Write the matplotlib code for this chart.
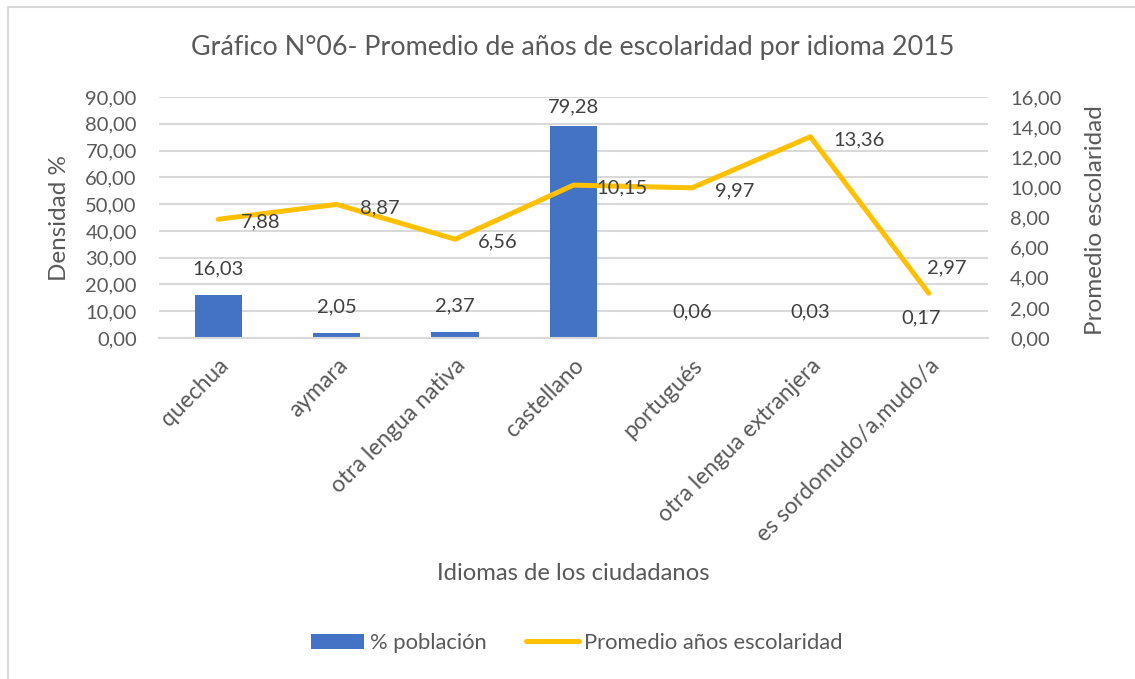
import matplotlib.pyplot as plt
from matplotlib.patches import Rectangle

plt.rcParams['font.family'] = ['Lato', 'DejaVu Sans']

idiomas = ["quechua", "aymara", "otra lengua nativa", "castellano",
           "portugués", "otra lengua extranjera", "es sordomudo/a,mudo/a"]
poblacion = [16.03, 2.05, 2.37, 79.28, 0.06, 0.03, 0.17]
escolaridad = [7.88, 8.87, 6.56, 10.15, 9.97, 13.36, 2.97]

azul = "#4472C4"
oro = "#FFC000"
gris = "#595959"
grid = "#D9D9D9"

fig = plt.figure(figsize=(11.35, 6.79), dpi=100)
ax = fig.add_axes([159/1135, 1-338/679, 829/1135, 241/679])
ax2 = ax.twinx()

x = list(range(len(idiomas)))
ax.bar(x, poblacion, width=0.4, color=azul, zorder=2, label="% población")
ax2.plot(x, escolaridad, color=oro, lw=3.6, solid_capstyle="round", zorder=3,
         label="Promedio años escolaridad")

ax.set_xlim(-0.5, len(idiomas) - 0.5)
ax.set_ylim(0, 90)
ax2.set_ylim(0, 16)
ax.set_yticks(range(0, 91, 10))
ax2.set_yticks(range(0, 17, 2))
ax.set_yticklabels([f"{v:.2f}".replace(".", ",") for v in range(0, 91, 10)])
ax2.set_yticklabels([f"{v:.2f}".replace(".", ",") for v in range(0, 17, 2)])
ax.yaxis.grid(True, color=grid, lw=1.5, zorder=0)
ax.set_axisbelow(True)

for a in (ax, ax2):
    for s in a.spines.values():
        s.set_visible(False)
    a.tick_params(length=0, labelsize=14.5, labelcolor=gris, pad=16)
ax.spines["bottom"].set_visible(True)
ax.spines["bottom"].set_color(grid)
ax.spines["bottom"].set_linewidth(1.5)

ax.set_xticks(x)
ax.set_xticklabels(idiomas, rotation=45, ha="right", va="top",
                   rotation_mode="anchor", fontsize=16.5, color=gris)
ax.tick_params(axis="x", pad=12)

# etiquetas de barras
desp_barras = [26, 26, 26, 19, 26, 26, 20]
dx_barras = [0, 0, 0, 0, 0, 0, -8]
for xi, v, dy, dx in zip(x, poblacion, desp_barras, dx_barras):
    ax.annotate(f"{v:.2f}".replace(".", ","), (xi, v), xytext=(dx, dy),
                textcoords="offset pixels", ha="center", va="center",
                fontsize=14.5, color="#404040")

# etiquetas de la linea
for i, (xi, v) in enumerate(zip(x, escolaridad)):
    dx, dy = (23, -3) if i < 6 else (-2, 25)
    ax2.annotate(f"{v:.2f}".replace(".", ","), (xi, v), xytext=(dx, dy),
                 textcoords="offset pixels", ha="left", va="center",
                 fontsize=14.5, color="#404040")

fig.text(573/1135, 1-47/679, "Gráfico N°06- Promedio de años de escolaridad por idioma 2015",
         ha="center", va="center", fontsize=19.4, color=gris)
fig.text(60/1135, 1-218/679, "Densidad %", rotation=90, ha="center", va="center",
         fontsize=17.5, color=gris)
fig.text(1095/1135, 1-220/679, "Promedio escolaridad", rotation=90, ha="center",
         va="center", fontsize=17.5, color=gris)
fig.text(573/1135, 1-573/679, "Idiomas de los ciudadanos", ha="center", va="center",
         fontsize=17.2, color=gris)

h1, l1 = ax.get_legend_handles_labels()
h2, l2 = ax2.get_legend_handles_labels()
fig.legend(h1 + h2, l1 + l2, loc="center", bbox_to_anchor=(577/1135, 1-643/679),
           ncol=2, frameon=False, fontsize=15.8, labelcolor=gris,
           handlelength=2.4, handletextpad=0.25, columnspacing=1.8)

fig.patches.append(Rectangle((8/1135, -0.1), 1.2, 1.1 - 7/679, transform=fig.transFigure,
                             fill=False, edgecolor=grid, lw=1.5))

fig.savefig("out.png", dpi=100)
